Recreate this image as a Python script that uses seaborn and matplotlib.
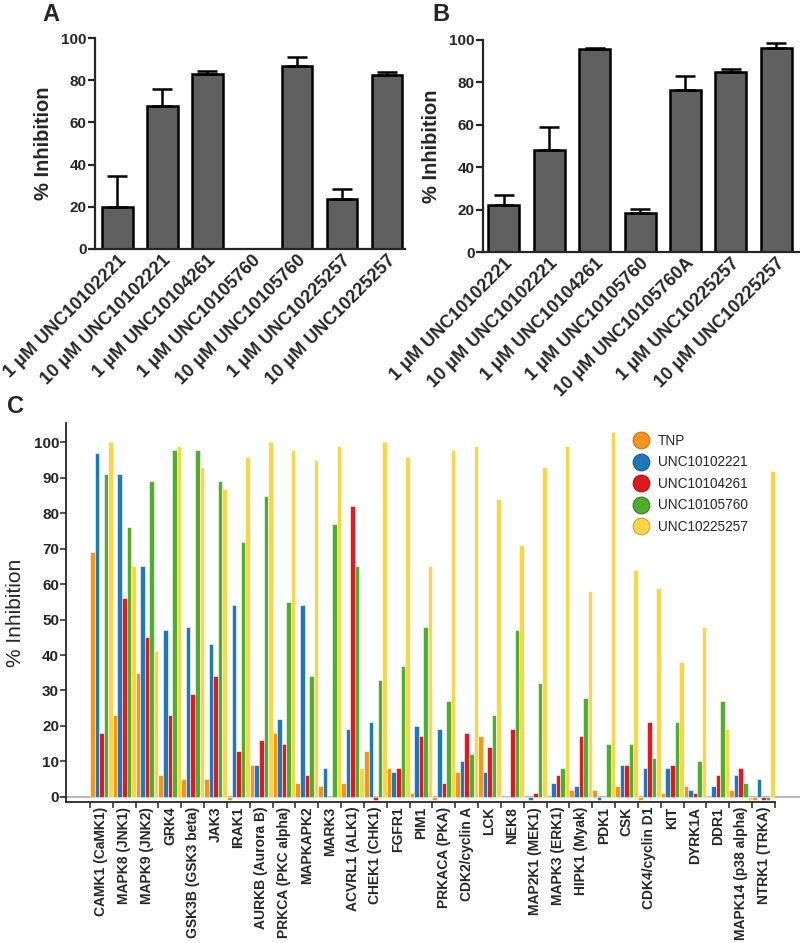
import numpy as np
import pandas as pd
import seaborn as sns
import matplotlib.pyplot as plt
from matplotlib.lines import Line2D

# panel A / B data
labels_a = ["1 μM UNC10102221", "10 μM UNC10102221", "1 μM UNC10104261", "1 μM UNC10105760",
            "10 μM UNC10105760", "1 μM UNC10225257", "10 μM UNC10225257"]
values_a = [20.1, 67.9, 83.1, 0, 86.6, 23.6, 82.3]
err_a = [14.7, 7.9, 1.2, 0, 4.2, 4.7, 1.6]

labels_b = ["1 μM UNC10102221", "10 μM UNC10102221", "1 μM UNC10104261", "1 μM UNC10105760",
            "10 μM UNC10105760A", "1 μM UNC10225257", "10 μM UNC10225257"]
values_b = [22.4, 48.0, 95.6, 18.4, 76.4, 85.0, 96.4]
err_b = [4.4, 11.0, 0.8, 2.0, 6.6, 1.3, 2.0]

# panel C data
kinases = ["CAMK1 (CaMK1)", "MAPK8 (JNK1)", "MAPK9 (JNK2)", "GRK4", "GSK3B (GSK3 beta)", "JAK3",
           "IRAK1", "AURKB (Aurora B)", "PRKCA (PKC alpha)", "MAPKAPK2", "MARK3", "ACVRL1 (ALK1)",
           "CHEK1 (CHK1)", "FGFR1", "PIM1", "PRKACA (PKA)", "CDK2/cyclin A", "LCK", "NEK8",
           "MAP2K1 (MEK1)", "MAPK3 (ERK1)", "HIPK1 (Myak)", "PDK1", "CSK", "CDK4/cyclin D1",
           "KIT", "DYRK1A", "DDR1", "MAPK14 (p38 alpha)", "NTRK1 (TRKA)"]
compounds = ["TNP", "UNC10102221", "UNC10104261", "UNC10105760", "UNC10225257"]
tnp = [69, 23, 35, 6, 5, 5, -1, 9, 18, 4, 3, 4, 13, 8, 1, -1, 7, 17, 0, 0, 0, 2, 2, 3, -1, 1, 3, 0, 2, -1]
unc02221 = [97, 91, 65, 47, 48, 43, 54, 9, 22, 54, 8, 19, 21, 7, 20, 19, 10, 7, 0, -1, 4, 3, -1, 9, 8, 8, 2, 3, 6, 5]
unc04261 = [18, 56, 45, 23, 29, 34, 13, 16, 15, 6, 0, 82, -1, 8, 17, 4, 18, 14, 19, 1, 6, 17, 0, 9, 21, 9, 1, 6, 8, -1]
unc05760 = [91, 76, 89, 98, 98, 89, 72, 85, 55, 34, 77, 65, 33, 37, 48, 27, 12, 23, 47, 32, 8, 28, 15, 15, 11, 21, 10, 27, 4, -1]
unc25257 = [100, 65, 41, 99, 93, 87, 96, 100, 98, 95, 99, 8, 100, 96, 65, 98, 99, 84, 71, 93, 99, 58, 103, 64, 59, 38, 48, 19, -1, 92]
palette = ["#f7941d", "#1f78b8", "#e2181f", "#4fae2c", "#f9d648"]
edge_cols = ["#c77410", "#145a8c", "#a81015", "#357a1c", "#c9a82c"]

sns.set_style("ticks")
plt.rcParams["font.family"] = ["Liberation Sans", "DejaVu Sans"]

fig = plt.figure(figsize=(8, 9.43), dpi=100)
W, H = 800, 943


def px_axes(left, top, right, bottom):
    return fig.add_axes([left / W, (H - bottom) / H, (right - left) / W, (bottom - top) / H])


def bar_panel(ax, labels, values, errs, xlim):
    sns.barplot(x=labels, y=values, color="#606060", edgecolor="black", linewidth=1.8,
                width=0.68, saturation=1, ax=ax)
    ax.errorbar(range(len(values)), values, yerr=[np.zeros(len(errs)), errs], fmt="none",
                ecolor="black", elinewidth=1.8, capsize=7, capthick=1.8, zorder=1)
    ax.set_ylim(0, 100)
    ax.set_xlim(*xlim)
    ax.set_yticks(range(0, 101, 20))
    for s in ["top", "right"]:
        ax.spines[s].set_visible(False)
    for s in ["left", "bottom"]:
        ax.spines[s].set_linewidth(1.6)
    ax.tick_params(axis="y", length=5, width=1.6, labelsize=11, pad=1)
    ax.tick_params(axis="x", length=0, pad=2)
    for t in ax.get_yticklabels():
        t.set_fontweight("bold")
    ax.set_xticks(range(len(labels)))
    ax.set_xticklabels(labels, rotation=45, ha="right", rotation_mode="anchor",
                       fontsize=13, fontweight="bold")
    ax.set_ylabel("% Inhibition", fontsize=14.5, fontweight="bold", labelpad=6)


axA = px_axes(95, 38, 405, 249)
bar_panel(axA, labels_a, values_a, err_a, (-0.5, 6.4))
axB = px_axes(483, 40, 799, 252)
bar_panel(axB, labels_b, values_b, err_b, (-0.46, 6.5))

# panel C
df = pd.DataFrame({"kinase": np.repeat(kinases, len(compounds)),
                   "compound": compounds * len(kinases),
                   "value": np.column_stack([tnp, unc02221, unc04261, unc05760, unc25257]).ravel()})
axC = px_axes(66, 423, 775, 802)
sns.barplot(data=df, x="kinase", y="value", hue="compound", hue_order=compounds,
            palette=palette, width=1.0, saturation=1, edgecolor="white", linewidth=0.4,
            errorbar=None, legend=False, ax=axC)
axC.set_xlim(-1.55, 29.5)
axC.set_ylim(-1.5, 105.5)
axC.set_yticks(range(0, 101, 10))
axC.axhline(0, xmin=-0.01, xmax=(800 - 66) / 709, color="#aaaaaa", lw=1.2, clip_on=False, zorder=0)
for s in ["top", "right"]:
    axC.spines[s].set_visible(False)
for s in ["left", "bottom"]:
    axC.spines[s].set_linewidth(1.3)
axC.set_xticks(range(len(kinases)))
axC.set_xticklabels(kinases, rotation=90, fontsize=10, fontweight="bold", va="top")
axC.set_xticks(np.arange(-0.5, len(kinases), 1), minor=True)
axC.tick_params(axis="x", which="major", length=0, pad=3.5)
axC.tick_params(axis="x", which="minor", length=4, width=1.1)
axC.tick_params(axis="y", length=4, width=1.1, labelsize=11, pad=1)
for t in axC.get_yticklabels():
    t.set_fontweight("bold")
axC.set_xlabel("")
axC.set_ylabel("% Inhibition", fontsize=15, labelpad=6)

handles = [Line2D([], [], marker="o", linestyle="", markersize=12, markerfacecolor=c,
                  markeredgecolor=e, markeredgewidth=0.8) for c, e in zip(palette, edge_cols)]
fig.legend(handles, compounds, loc="upper left", bbox_to_anchor=(633 / W, (H - 434) / H),
           frameon=False, fontsize=9.8, borderpad=0, borderaxespad=0, handlelength=1.2,
           handletextpad=0.65, labelspacing=0.55)

# panel letters
fig.text(42 / W, 1 - 3 / H, "A", fontsize=17, fontweight="bold", va="top")
fig.text(432 / W, 1 - 3 / H, "B", fontsize=17, fontweight="bold", va="top")
fig.text(7 / W, 1 - 395 / H, "C", fontsize=17, fontweight="bold", va="top")

fig.savefig("out.png", dpi=100)
